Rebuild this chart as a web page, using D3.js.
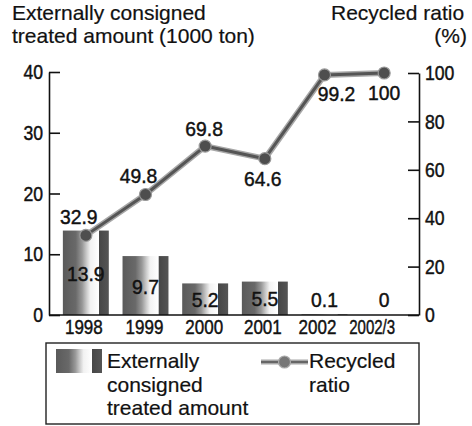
<!DOCTYPE html>
<html>
<head>
<meta charset="utf-8">
<script src="https://cdn.jsdelivr.net/npm/d3@7/dist/d3.min.js"></script>
<style>
  html, body { margin: 0; padding: 0; background: #fff; }
  svg { display: block; font-family: "Liberation Sans", Arial, Helvetica, sans-serif; }
  text { fill: #111; }
  .num { stroke: #111; stroke-width: 0.45px; }
  .word { stroke: #111; stroke-width: 0.2px; }
</style>
</head>
<body>
<svg id="chart" width="472" height="426"></svg>
<script>
// Fiscal years on the category axis
const years = ["1998", "1999", "2000", "2001", "2002", "2002/3"];
// Externally consigned treated amount, thousand tons
const treatedAmount = [13.9, 9.7, 5.2, 5.5, 0.1, 0];
// Recycled ratio, percent
const recycledRatio = [32.9, 49.8, 69.8, 64.6, 99.2, 100];
// Axis tick values
const leftTicks = [0, 10, 20, 30, 40];
const rightTicks = [0, 20, 40, 60, 80, 100];

const svg = d3.select("#chart");

const x = d3.scaleBand().domain(years).range([56, 414]).padding(0);
const yL = d3.scaleLinear().domain([0, 40]).range([315, 72]);
const yR = d3.scaleLinear().domain([0, 100]).range([315, 73]);

// Narrow a text horizontally, giving the tall condensed figures of the print face
function condense(sel, factor) {
  sel.each(function () {
    const len = this.getComputedTextLength();
    d3.select(this).attr("textLength", len * factor).attr("lengthAdjust", "spacingAndGlyphs");
  });
}

// Cylinder-like shading used for the bars and the legend swatch
const defs = svg.append("defs");
const grad = defs.append("linearGradient").attr("id", "barShade")
  .attr("x1", "0%").attr("x2", "100%").attr("y1", "0%").attr("y2", "0%");
[
  [0.00, "#5a5a5a"], [0.28, "#696969"], [0.42, "#989898"], [0.52, "#cccccc"],
  [0.60, "#f2f2f2"], [0.78, "#ffffff"], [0.79, "#474747"], [1.00, "#555555"]
].forEach(([o, c]) => grad.append("stop").attr("offset", o).attr("stop-color", c));

// Axis titles
svg.append("text").attr("class", "word").attr("x", 12).attr("y", 19.5).style("font-size", "21px").text("Externally consigned");
svg.append("text").attr("class", "word").attr("x", 12).attr("y", 43).style("font-size", "21px").text("treated amount (1000 ton)");
svg.append("text").attr("class", "word").attr("x", 331).attr("y", 19.5).style("font-size", "21px").text("Recycled ratio");
svg.append("text").attr("class", "word").attr("x", 467).attr("y", 43).attr("text-anchor", "end").style("font-size", "21px").text("(%)");

// Bars
const barW = x.bandwidth() * 0.77;
const cx = d => x(d) + x.bandwidth() / 2;
svg.append("g").selectAll("rect").data(years).join("rect")
  .attr("x", d => cx(d) - barW / 2)
  .attr("width", barW)
  .attr("y", (d, i) => yL(treatedAmount[i]))
  .attr("height", (d, i) => yL(0) - yL(treatedAmount[i]))
  .attr("fill", "url(#barShade)");

// Left axis
const gL = svg.append("g").attr("transform", "translate(49,0)")
  .call(d3.axisLeft(yL).tickValues(leftTicks).tickSizeInner(-11).tickSizeOuter(0).tickPadding(6));
// Right axis
const gR = svg.append("g").attr("transform", "translate(419,0)")
  .call(d3.axisRight(yR).tickValues(rightTicks).tickSizeInner(-11).tickSizeOuter(0).tickPadding(6));
[gL, gR].forEach(g => {
  g.attr("font-family", null).attr("font-size", null);
  g.selectAll("path, line").attr("stroke", "#111").attr("stroke-width", 1.6);
  g.selectAll("text").attr("class", "num").style("font-size", "21px").attr("fill", "#111").call(condense, 0.84);
});

// Category axis
svg.append("line").attr("x1", 49).attr("x2", 419).attr("y1", 315).attr("y2", 315)
  .attr("stroke", "#111").attr("stroke-width", 1.6);
const labelShift = [-2, -1, -1, -2, -7, -12];
const gX = svg.append("g").attr("transform", "translate(0,315)")
  .call(d3.axisBottom(x).tickSize(0).tickPadding(4));
gX.attr("font-family", null).attr("font-size", null);
gX.select(".domain").remove();
gX.selectAll("text").attr("class", "num").style("font-size", "21px").attr("fill", "#111")
  .attr("dx", (d, i) => labelShift[i])
  .call(condense, 0.81)
  .each(function (d) {
    if (d.includes("/")) d3.select(this).attr("textLength", 46);
  });

// Bar value labels
svg.append("g").selectAll("text").data(years).join("text")
  .attr("class", "num")
  .attr("x", d => cx(d))
  .attr("y", (d, i) => Math.min(yL(treatedAmount[i] / 2) + 8, 307))
  .attr("text-anchor", "middle")
  .style("font-size", "21px")
  .text((d, i) => treatedAmount[i])
  .call(condense, 0.92);

// Recycled ratio line
const line = d3.line().x(d => cx(d[0])).y(d => yR(d[1]));
const pts = years.map((d, i) => [d, recycledRatio[i]]);
svg.append("path").datum(pts).attr("d", line).attr("fill", "none")
  .attr("stroke", "#a8a8a8").attr("stroke-width", 6).attr("stroke-linejoin", "round");
svg.append("path").datum(pts).attr("d", line).attr("fill", "none")
  .attr("stroke", "#555").attr("stroke-width", 3).attr("stroke-linejoin", "round");
svg.append("g").selectAll("circle").data(pts).join("circle")
  .attr("cx", d => cx(d[0])).attr("cy", d => yR(d[1])).attr("r", 6)
  .attr("fill", "#4e4e4e").attr("stroke", "#999").attr("stroke-width", 1.2);

// Ratio labels: above rising points, below the dip and the top plateau
const ptShift = [[-7, -11], [-7, -11], [-1, -10], [-2, 27], [12, 26], [0, 27]];
svg.append("g").selectAll("text").data(pts).join("text")
  .attr("class", "num")
  .attr("x", (d, i) => cx(d[0]) + ptShift[i][0])
  .attr("y", (d, i) => yR(d[1]) + ptShift[i][1])
  .attr("text-anchor", "middle")
  .style("font-size", "21px")
  .text(d => d[1])
  .call(condense, 0.92);

// Legend
const lg = svg.append("g");
lg.append("rect").attr("x", 46).attr("y", 343).attr("width", 373).attr("height", 81)
  .attr("fill", "none").attr("stroke", "#222").attr("stroke-width", 1.4);
lg.append("rect").attr("x", 56).attr("y", 349).attr("width", 46).attr("height", 24)
  .attr("fill", "url(#barShade)");
["Externally", "consigned", "treated amount"].forEach((t, i) =>
  lg.append("text").attr("class", "word").attr("x", 107).attr("y", 368 + i * 23.5).style("font-size", "21px").text(t));
lg.append("line").attr("x1", 261).attr("x2", 308).attr("y1", 362).attr("y2", 362)
  .attr("stroke", "#a8a8a8").attr("stroke-width", 5);
lg.append("line").attr("x1", 261).attr("x2", 308).attr("y1", 362).attr("y2", 362)
  .attr("stroke", "#666").attr("stroke-width", 2);
lg.append("circle").attr("cx", 284.5).attr("cy", 362).attr("r", 6)
  .attr("fill", "#777").attr("stroke", "#aaa").attr("stroke-width", 1.2);
["Recycled", "ratio"].forEach((t, i) =>
  lg.append("text").attr("class", "word").attr("x", 309).attr("y", 368 + i * 23.5).style("font-size", "21px").text(t));
</script>
</body>
</html>
